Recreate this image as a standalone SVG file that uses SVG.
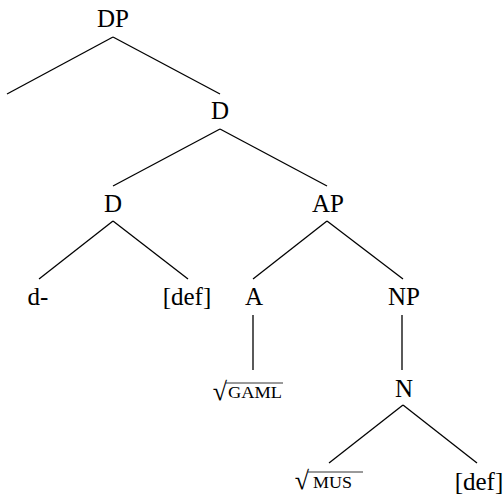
<svg xmlns="http://www.w3.org/2000/svg" width="503" height="496" viewBox="0 0 503 496">
<style>
text{font-family:"Liberation Serif","Times New Roman",serif;font-size:25px;fill:#000;text-anchor:middle}
.sc{font-size:17px;text-anchor:start}
.rad{font-size:26px;text-anchor:end}
line{stroke:#000;stroke-width:1.3;fill:none}
.ov{stroke-width:0.8}
</style>
<rect width="503" height="496" fill="#fff"/>
<g id="connectors">
<line x1="113" y1="37" x2="7" y2="94"/>
<line x1="113" y1="37" x2="220" y2="94"/>
<line x1="220" y1="129" x2="113" y2="186"/>
<line x1="220" y1="129" x2="327" y2="186"/>
<line x1="113" y1="221" x2="39" y2="279"/>
<line x1="113" y1="221" x2="188" y2="279"/>
<line x1="327" y1="221" x2="253" y2="279"/>
<line x1="327" y1="221" x2="403" y2="279"/>
<line x1="253" y1="315" x2="253" y2="370"/>
<line x1="402" y1="315" x2="402" y2="370"/>
<line x1="403" y1="405" x2="329" y2="463"/>
<line x1="403" y1="405" x2="477" y2="463"/>
</g>
<g id="n-DP"><text x="113" y="27">DP</text></g>
<g id="n-D1"><text x="220" y="119">D</text></g>
<g id="n-D2"><text x="113" y="212">D</text></g>
<g id="n-AP"><text x="328" y="212">AP</text></g>
<g id="n-d"><text x="38" y="305">d-</text></g>
<g id="n-def1"><text x="187" y="305">[def]</text></g>
<g id="n-A"><text x="254" y="305">A</text></g>
<g id="n-NP"><text x="404" y="305">NP</text></g>
<g id="n-GAML"><text class="rad" x="227" y="400">√</text><line class="ov" x1="226" y1="383" x2="283" y2="383"/><text class="sc" x="228" y="398" textLength="54" lengthAdjust="spacingAndGlyphs">GAML</text></g>
<g id="n-N"><text x="404" y="397">N</text></g>
<g id="n-MUS"><text class="rad" x="309" y="489">√</text><line class="ov" x1="308" y1="472" x2="363" y2="472"/><text class="sc" x="313" y="488" textLength="39" lengthAdjust="spacingAndGlyphs">MUS</text></g>
<g id="n-def2"><text x="479" y="490">[def]</text></g>
</svg>
